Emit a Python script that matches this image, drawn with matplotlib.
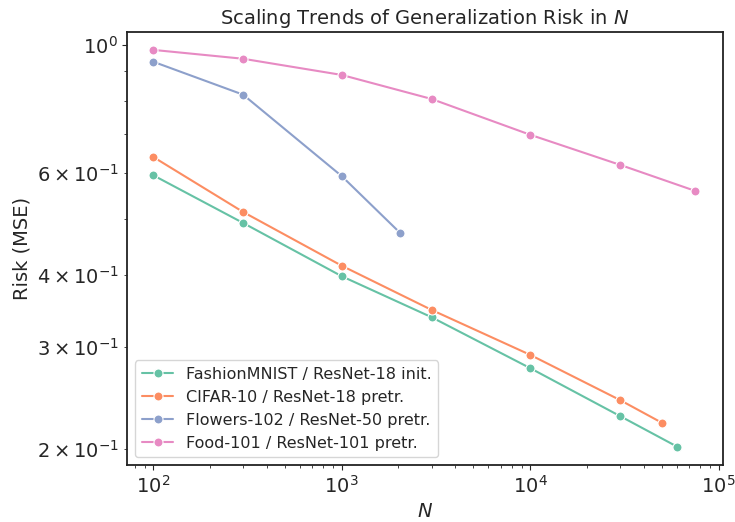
import matplotlib

matplotlib.use('Agg')
import matplotlib.pyplot as plt
import seaborn as sns
import numpy as np

labels = ['FashionMNIST / ResNet-18 init.',
          'CIFAR-10 / ResNet-18 pretr.',
          'Flowers-102 / ResNet-50 pretr.',
          'Food-101 / ResNet-101 pretr.']

n_fashion = [100, 300, 1000, 3000, 10000, 30000, 60000]
r_fashion = [0.595, 0.492, 0.398, 0.338, 0.276, 0.228, 0.202]

n_cifar = [100, 300, 1000, 3000, 10000, 30000, 50000]
r_cifar = [0.640, 0.514, 0.415, 0.348, 0.291, 0.243, 0.222]

n_flowers = [100, 300, 1000, 2040]
r_flowers = [0.935, 0.820, 0.593, 0.473]

n_food = [100, 300, 1000, 3000, 10000, 30000, 75000]
r_food = [0.980, 0.946, 0.887, 0.806, 0.699, 0.620, 0.559]

sns.set_style('ticks')
colors = sns.color_palette('Set2')

fig, ax = plt.subplots(figsize=(7.35, 5.22), dpi=100)

series = [(n_fashion, r_fashion), (n_cifar, r_cifar),
          (n_flowers, r_flowers), (n_food, r_food)]
for i, (n, r) in enumerate(series):
    ax.plot(n, r, marker='o', color=colors[i], label=labels[i],
            lw=1.5, ms=6.5, mec='white', mew=0.8)

ax.set_xscale('log')
ax.set_yscale('log')
ax.set_xlim(72.8, 105700)
ax.set_ylim(0.1876, 1.053)

ax.set_xlabel('$N$', fontsize=14)
ax.set_ylabel('Risk (MSE)', fontsize=14)
ax.set_title('Scaling Trends of Generalization Risk in $N$', fontsize=14)
ax.tick_params(which='both', labelsize=14)
for s in ax.spines.values():
    s.set_linewidth(1.3)
    s.set_color('#222222')

ax.legend(loc='lower left', fontsize=11.5)

plt.subplots_adjust(left=0.173, right=0.984, top=0.939, bottom=0.109)
plt.savefig('out.png')
